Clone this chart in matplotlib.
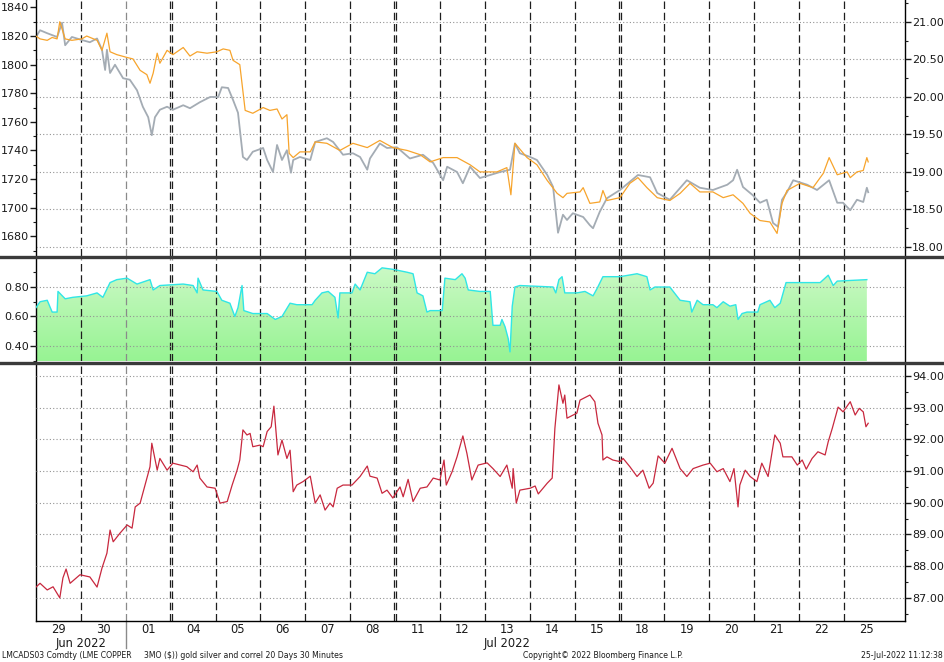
import numpy as np
import matplotlib
matplotlib.use('Agg')
import matplotlib.pyplot as plt
from matplotlib.lines import Line2D
from matplotlib.colors import LinearSegmentedColormap
from matplotlib.ticker import MultipleLocator, FormatStrFormatter
import matplotlib.transforms as mtransforms

plt.rcParams['font.family'] = ['DejaVu Sans']

# ---------------- data ----------------
day_labels = ['29', '30', '01', '04', '05', '06', '07', '08', '11', '12',
              '13', '14', '15', '18', '19', '20', '21', '22', '25']
month_labels = ['Jun 2022', 'Jul 2022']
month_label_pos = [1.0, 10.49]   # in trading-day units
weekend_breaks = [3, 8, 13]
month_break = 2

# time in trading days since 29-Jun open
gold_t = [0.00, 0.09, 0.25, 0.36, 0.47, 0.53, 0.65, 0.80, 1.02, 1.13, 1.36, 1.47, 1.58, 1.65, 1.80,
          2.03, 2.16, 2.32, 2.47, 2.54, 2.61, 2.70, 2.76, 2.92, 3.05, 3.28, 3.43, 3.59, 3.81, 4.03,
          4.17, 4.32, 4.39, 4.54, 4.66, 4.83, 5.06, 5.21, 5.37, 5.48, 5.59, 5.64, 5.73, 5.88, 6.11,
          6.22, 6.48, 6.77, 7.06, 7.38, 7.66, 7.95, 8.27, 8.56, 8.78, 9.07, 9.38, 9.67, 9.89, 10.27,
          10.49, 10.58, 10.67, 10.94, 11.16, 11.39, 11.61, 11.74, 11.83, 12.12, 12.19, 12.34, 12.56,
          12.63, 12.72, 13.01, 13.23, 13.41, 13.61, 13.84, 14.12, 14.35, 14.57, 14.79, 15.08, 15.31,
          15.53, 15.75, 15.91, 16.13, 16.35, 16.51, 16.62, 16.73, 17.02, 17.31, 17.54, 17.67, 17.85,
          18.07, 18.14, 18.29, 18.43, 18.51, 18.54]
gold_v = [1820, 1818, 1817, 1819, 1818, 1830, 1818, 1817, 1818, 1820, 1817, 1810, 1822, 1809, 1807,
          1805, 1804, 1796, 1793, 1787, 1794, 1808, 1801, 1810, 1807, 1812, 1806, 1809, 1808, 1809,
          1811, 1810, 1803, 1800, 1768, 1766, 1770, 1768, 1769, 1762, 1765, 1738, 1735, 1739, 1739,
          1746, 1745, 1740, 1745, 1742, 1747, 1742, 1740, 1737, 1732, 1735, 1735, 1730, 1725, 1725,
          1728, 1709, 1745, 1735, 1730, 1719, 1710, 1707, 1710, 1711, 1714, 1703, 1704,
          1712, 1705, 1707, 1717, 1721, 1714, 1707, 1705, 1710, 1717, 1711, 1711, 1707,
          1709, 1703, 1696, 1691, 1690, 1682, 1703, 1712, 1717, 1714, 1724, 1735, 1723,
          1725, 1721, 1725, 1726, 1735, 1732]

silver_t = [0.00, 0.09, 0.25, 0.47, 0.58, 0.65, 0.80, 1.02, 1.20, 1.36, 1.47, 1.54, 1.58, 1.65, 1.76,
            1.94, 2.09, 2.25, 2.38, 2.50, 2.58, 2.65, 2.76, 2.92, 3.05, 3.28, 3.43, 3.65, 3.88, 4.06,
            4.14, 4.28, 4.39, 4.50, 4.61, 4.70, 4.83, 5.06, 5.15, 5.28, 5.37, 5.48, 5.59, 5.68, 5.73,
            5.88, 6.11, 6.22, 6.48, 6.62, 6.84, 7.06, 7.22, 7.38, 7.44, 7.66, 7.82, 8.04, 8.33, 8.62,
            8.85, 9.07, 9.16, 9.38, 9.51, 9.67, 9.89, 10.12, 10.34, 10.56, 10.67, 10.78, 11.01, 11.16,
            11.39, 11.52, 11.63, 11.74, 11.83, 11.96, 12.19, 12.34, 12.41, 12.56, 12.72, 13.01, 13.23,
            13.41, 13.68, 13.84, 14.12, 14.50, 14.79, 15.08, 15.40, 15.53, 15.62, 15.75, 15.97, 16.13,
            16.28, 16.42, 16.53, 16.62, 16.73, 16.87, 17.18, 17.40, 17.67, 17.85, 17.98, 18.14, 18.29,
            18.43, 18.51, 18.54]
silver_v = [20.80, 20.89, 20.85, 20.80, 20.99, 20.69, 20.80, 20.76, 20.73, 20.78, 20.63, 20.36, 20.63, 20.32, 20.43,
            20.25, 20.23, 20.09, 19.87, 19.73, 19.49, 19.73, 19.83, 19.87, 19.83, 19.89, 19.85, 19.93, 20.00, 20.00,
            20.13, 20.12, 19.96, 19.79, 19.20, 19.16, 19.27, 19.32, 19.16, 19.00, 19.36, 19.16, 19.29, 18.99, 19.16,
            19.20, 19.16, 19.40, 19.45, 19.40, 19.23, 19.25, 19.20, 19.03, 19.18, 19.38, 19.32, 19.33, 19.18, 19.23,
            19.12, 18.89, 19.07, 19.00, 18.85, 19.07, 18.92, 18.96, 19.00, 19.03, 19.38, 19.25, 19.20, 19.16,
            18.96, 18.80, 18.19, 18.43, 18.36, 18.45, 18.40, 18.29, 18.25, 18.47, 18.65, 18.76, 18.87,
            18.96, 18.93, 18.72, 18.63, 18.89, 18.79, 18.76, 18.83, 18.89, 19.03, 18.80, 18.69, 18.59,
            18.63, 18.32, 18.27, 18.63, 18.73, 18.89, 18.83, 18.76, 18.89, 18.59, 18.59, 18.49, 18.63,
            18.60, 18.79, 18.73]

corr_t = [0.00, 0.09, 0.25, 0.36, 0.47, 0.49, 0.65, 0.82, 1.13, 1.36, 1.49, 1.65, 1.80, 2.03, 2.25,
          2.54, 2.61, 2.76, 3.28, 3.50, 3.59, 3.61, 3.72, 4.03, 4.14, 4.32, 4.43, 4.50, 4.59, 4.63,
          4.83, 5.15, 5.33, 5.48, 5.66, 5.81, 6.15, 6.22, 6.37, 6.51, 6.66, 6.73, 6.77, 7.04, 7.11,
          7.22, 7.38, 7.55, 7.71, 7.95, 8.27, 8.40, 8.49, 8.62, 8.71, 8.78, 9.05, 9.11, 9.34, 9.49,
          9.56, 9.63, 9.89, 10.12, 10.18, 10.34, 10.38, 10.45, 10.52, 10.56, 10.61, 10.67, 10.78,
          11.52, 11.58, 11.65, 11.72, 11.78, 12.05, 12.23, 12.41, 12.50, 12.63, 13.01, 13.39, 13.61,
          13.68, 13.79, 14.12, 14.35, 14.57, 14.61, 14.73, 14.86, 15.08, 15.17, 15.31, 15.46, 15.59,
          15.64, 15.73, 15.84, 16.08, 16.13, 16.35, 16.46, 16.58, 16.71, 17.09, 17.47, 17.65, 17.76,
          17.85, 18.51]
corr_v = [0.66, 0.70, 0.71, 0.63, 0.63, 0.77, 0.72, 0.73, 0.74, 0.76, 0.73, 0.83, 0.85, 0.86, 0.82,
          0.85, 0.78, 0.81, 0.82, 0.81, 0.76, 0.86, 0.78, 0.77, 0.71, 0.69, 0.60, 0.66, 0.81, 0.64,
          0.62, 0.62, 0.58, 0.60, 0.69, 0.68, 0.68, 0.71, 0.76, 0.77, 0.73, 0.59, 0.76, 0.76, 0.82,
          0.78, 0.90, 0.89, 0.93, 0.92, 0.90, 0.89, 0.76, 0.74, 0.63, 0.64, 0.64, 0.86, 0.85, 0.89,
          0.86, 0.78, 0.77, 0.77, 0.54, 0.54, 0.58, 0.53, 0.45, 0.36, 0.67, 0.80, 0.81,
          0.80, 0.76, 0.85, 0.87, 0.76, 0.76, 0.77, 0.74, 0.79, 0.87, 0.87, 0.89, 0.87,
          0.78, 0.80, 0.80, 0.71, 0.70, 0.63, 0.71, 0.68, 0.68, 0.66, 0.70, 0.67, 0.68,
          0.58, 0.62, 0.63, 0.63, 0.68, 0.71, 0.66, 0.69, 0.83, 0.83, 0.83, 0.88, 0.81,
          0.84, 0.85]

copper_t = [0.00, 0.09, 0.25, 0.38, 0.53, 0.60, 0.67, 0.76, 0.98, 1.20, 1.36, 1.47, 1.58, 1.65, 1.72,
            1.87, 2.03, 2.14, 2.21, 2.32, 2.43, 2.54, 2.58, 2.70, 2.76, 2.92, 3.05, 3.36, 3.50, 3.59,
            3.65, 3.81, 3.99, 4.10, 4.26, 4.37, 4.48, 4.54, 4.61, 4.70, 4.77, 4.83, 4.99, 5.06, 5.15,
            5.24, 5.30, 5.39, 5.48, 5.59, 5.66, 5.73, 5.81, 5.95, 6.11, 6.22, 6.33, 6.44, 6.55, 6.62,
            6.71, 6.84, 7.04, 7.22, 7.38, 7.44, 7.60, 7.71, 7.82, 7.95, 8.11, 8.18, 8.29, 8.40, 8.56,
            8.71, 8.85, 9.00, 9.09, 9.14, 9.27, 9.38, 9.51, 9.60, 9.71, 9.85, 10.05, 10.18, 10.34,
            10.49, 10.61, 10.63, 10.70, 10.78, 11.01, 11.12, 11.19, 11.39, 11.50, 11.56, 11.65, 11.74,
            11.78, 11.83, 12.05, 12.12, 12.34, 12.45, 12.52, 12.61, 12.63, 12.72, 12.85, 13.01, 13.08,
            13.23, 13.39, 13.52, 13.66, 13.75, 13.86, 14.01, 14.17, 14.35, 14.50, 14.64, 14.86, 15.02,
            15.17, 15.31, 15.46, 15.55, 15.64, 15.68, 15.80, 15.91, 16.06, 16.17, 16.31, 16.46, 16.58,
            16.64, 16.84, 16.96, 17.07, 17.16, 17.29, 17.42, 17.58, 17.65, 17.74, 17.87, 17.98, 18.14,
            18.25, 18.34, 18.43, 18.49, 18.54]
copper_v = [87.34, 87.46, 87.25, 87.35, 87.00, 87.63, 87.91, 87.46, 87.73, 87.66, 87.34, 87.94, 88.41, 89.14, 88.77,
            89.04, 89.30, 89.20, 89.87, 89.99, 90.56, 91.14, 91.88, 91.03, 91.40, 91.03, 91.25, 91.14, 90.98, 91.19,
            90.78, 90.50, 90.46, 89.99, 90.04, 90.56, 91.03, 91.35, 92.30, 92.14, 92.19, 91.77, 91.82, 91.77, 92.25,
            92.40, 93.05, 91.51, 91.98, 91.40, 91.66, 90.35, 90.56, 90.67, 90.84, 89.99, 90.25, 89.77, 89.99, 89.87,
            90.46, 90.56, 90.56, 90.83, 91.16, 90.84, 90.78, 90.30, 90.40, 90.15, 90.50, 90.19, 90.74, 90.04, 90.46,
            90.50, 90.78, 90.72, 91.35, 90.56, 90.98, 91.45, 92.11, 91.56, 90.72, 91.19, 91.26, 91.08, 90.83,
            91.19, 90.46, 91.08, 89.99, 90.40, 90.46, 90.53, 90.28, 90.62, 90.78, 92.35, 93.72, 93.14,
            93.40, 92.67, 92.83, 93.24, 93.40, 93.19, 92.51, 92.14, 91.35, 91.45, 91.35, 91.30, 91.40,
            91.14, 90.83, 91.03, 90.46, 90.62, 91.48, 91.25, 91.72, 91.08, 90.83, 91.08, 91.19, 91.25,
            90.98, 91.08, 90.67, 91.08, 89.87, 90.56, 91.03, 90.83, 90.67, 91.25, 90.83, 92.14, 91.88,
            91.45, 91.45, 91.19, 91.35, 91.06, 91.40, 91.61, 91.51, 91.93, 92.35, 93.02, 92.87, 93.19,
            92.77, 92.98, 92.87, 92.40, 92.51]

footer_left = 'LMCADS03 Comdty (LME COPPER'
footer_mid = '3MO ($)) gold silver and correl 20 Days 30 Minutes'
footer_copy = 'Copyright\u00a9 2022 Bloomberg Finance L.P.'
footer_time = '25-Jul-2022 11:12:38'

# ---------------- styling ----------------
W_PX, H_PX = 945, 662
fig = plt.figure(figsize=(W_PX / 100, H_PX / 100), dpi=100)
L = 36 / W_PX
WD = 869 / W_PX
ax1 = fig.add_axes([L, 1 - 256 / H_PX, WD, 256 / H_PX])
ax1r = ax1.twinx()
ax2 = fig.add_axes([L, 1 - 361 / H_PX, WD, 102 / H_PX], sharex=ax1)
ax3 = fig.add_axes([L, 1 - 621 / H_PX, WD, 257 / H_PX], sharex=ax1)

ax1.set_zorder(ax1r.get_zorder() + 1)
ax1.patch.set_visible(False)

xmax = 19.36
ax1.set_xlim(0, xmax)

GOLD = '#f7a42c'
SILVER = '#a4acb4'
COPPER = '#c8283e'
CYAN = '#30e6e6'
TXT = '#1a1a1a'
FS = 8

def vlines(ax):
    for k in range(1, 19):
        col = '#8a8a8a' if k == month_break else '#1e1e1e'
        if k in weekend_breaks:
            pos = [k - 0.022, k + 0.022]
        else:
            pos = [k]
        for p in pos:
            ax.axvline(p, color=col, lw=0.9, ls=(0, (6, 3)), zorder=2)

def hgrid(ax):
    ax.grid(axis='y', color='#939393', ls=(0, (1, 2)), lw=0.8, zorder=2)
    ax.set_axisbelow(False)

# top panel
ax1.plot(gold_t, gold_v, color=GOLD, lw=0.9, zorder=4)
ax1r.plot(silver_t, silver_v, color=SILVER, lw=1.3, zorder=3)
ax1.set_ylim(1666.2, 1845.2)
ax1r.set_ylim(17.88, 21.293)
ax1.set_yticks(np.arange(1680, 1841, 20))
ax1.yaxis.set_minor_locator(MultipleLocator(10))
ax1r.set_yticks(np.arange(18.0, 21.01, 0.5))
ax1r.yaxis.set_minor_locator(MultipleLocator(0.25))
ax1r.yaxis.set_major_formatter(FormatStrFormatter('%.2f'))
hgrid(ax1r)
vlines(ax1r)
for a in (ax1, ax1r):
    a.spines['top'].set_visible(False)
    a.spines['bottom'].set_visible(False)
ax1.spines['right'].set_visible(False)
ax1r.spines['left'].set_visible(False)
ax1.tick_params(axis='x', bottom=False, labelbottom=False)
ax1r.tick_params(axis='x', bottom=False, labelbottom=False)

# middle panel
ylo2, yhi2 = 0.298, 0.99
poly = ax2.fill_between(corr_t, corr_v, ylo2, color='none', lw=0)
grad = np.linspace(0, 1, 256).reshape(-1, 1)
cmap = LinearSegmentedColormap.from_list('g', ['#97f393', '#cbf9c5'])
im = ax2.imshow(grad, aspect='auto', cmap=cmap, origin='lower',
                extent=[0, max(corr_t), ylo2, max(corr_v)], zorder=1, interpolation='bilinear')
im.set_clip_path(poly.get_paths()[0], transform=ax2.transData)
ax2.plot(corr_t, corr_v, color=CYAN, lw=1.0, zorder=3)
ax2.set_ylim(ylo2, yhi2)
ax2.set_yticks([0.4, 0.6, 0.8])
ax2.yaxis.set_minor_locator(MultipleLocator(0.1))
ax2.yaxis.set_major_formatter(FormatStrFormatter('%.2f'))
hgrid(ax2)
vlines(ax2)
ax2.spines['top'].set_visible(False)
ax2.spines['bottom'].set_visible(False)
ax2.tick_params(axis='x', bottom=False, labelbottom=False)

# bottom panel
ax3.plot(copper_t, copper_v, color=COPPER, lw=0.9, zorder=3)
ax3.set_ylim(86.27, 94.38)
ax3.yaxis.tick_right()
ax3.set_yticks(np.arange(87, 94.01, 1.0))
ax3.yaxis.set_minor_locator(MultipleLocator(0.5))
ax3.yaxis.set_major_formatter(FormatStrFormatter('%.2f'))
hgrid(ax3)
vlines(ax3)
ax3.spines['top'].set_visible(False)
ax3.set_xticks([i + 0.5 for i in range(len(day_labels))])
ax3.set_xticklabels(day_labels)
ax3.tick_params(axis='x', length=0, pad=1.5, labelsize=8.3, colors=TXT)

blend = mtransforms.blended_transform_factory(ax3.transData, ax3.transAxes)
for lab, pos in zip(month_labels, month_label_pos):
    ax3.text(pos, -22.5 / 257, lab, transform=blend, ha='center', va='center',
             fontsize=8.3, color=TXT)
ax3.add_line(Line2D([month_break, month_break], [0, -27 / 257], transform=blend,
                    color='#8a8a8a', lw=1.0, clip_on=False))

for a in (ax1, ax1r, ax2, ax3):
    a.tick_params(axis='y', which='major', length=4, width=1, labelsize=FS, colors=TXT, pad=1)
    a.tick_params(axis='y', which='minor', length=2.5, width=0.8, colors=TXT)
    for s in a.spines.values():
        s.set_color('#000000')
        s.set_linewidth(1.0)
ax1.set_xlim(0, xmax)

# thick separators
for ypx in (257, 363):
    fig.add_artist(Line2D([0, 1], [1 - ypx / H_PX] * 2, transform=fig.transFigure,
                          color='#3a3a3a', lw=2.4))

# footer
fy = 1 - 656 / H_PX
ffs = 5.6
fig.text(2 / W_PX, fy, footer_left, fontsize=ffs, va='center', ha='left', color=TXT)
fig.text(144 / W_PX, fy, footer_mid, fontsize=ffs, va='center', ha='left', color=TXT)
fig.text(523 / W_PX, fy, footer_copy, fontsize=ffs, va='center', ha='left', color=TXT)
fig.text(943 / W_PX, fy, footer_time, fontsize=ffs, va='center', ha='right', color=TXT)

fig.savefig('out.png', dpi=100, facecolor='white')
